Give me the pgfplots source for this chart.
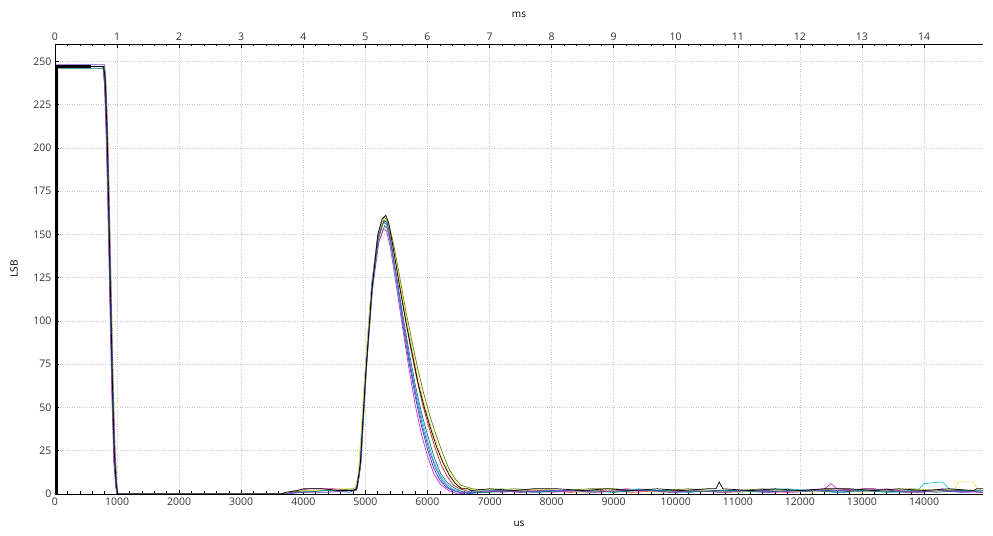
\documentclass[border=0pt]{standalone}
\usepackage{fontspec}
\setmainfont{Open Sans}
\usepackage{pgfplots}
\pgfplotsset{compat=1.18}

\definecolor{tBlue}{HTML}{2040D0}
\definecolor{tRed}{HTML}{D02020}
\definecolor{tOlive}{HTML}{6A7A10}
\definecolor{tMag}{HTML}{C030C0}
\definecolor{tCyan}{HTML}{20C8D8}
\definecolor{tYel}{HTML}{E6E040}
\definecolor{tTeal}{HTML}{107878}
\definecolor{tPurp}{HTML}{7050C8}
\definecolor{gridc}{HTML}{C8C8C8}

\pgfplotsset{
  lsbbase/.style={
    scale only axis, width=928pt, height=450pt,
    ymin=0, ymax=260,
    tick align=inside,
    major tick length=4pt, minor tick length=2.5pt,
    axis line style={-, black, line width=0.8pt},
    tick style={black, line width=0.6pt},
    every tick label/.append style={font=\fontsize{10.5}{12}\selectfont, text=black!80},
    /pgf/number format/assume math mode=true,
    label style={font=\fontsize{10.5}{12}\selectfont, text=black!80},
  }
}

\begin{document}
\begin{tikzpicture}
\begin{axis}[lsbbase, name=main,
  xmin=0, xmax=14950,
  axis x line*=bottom, axis y line*=left,
  xtick={0,1000,...,14000}, minor x tick num=4,
  ytick={0,25,...,250},
  scaled x ticks=false,
  xticklabel style={/pgf/number format/1000 sep=},
  grid=major, grid style={dotted, gridc, line width=0.6pt},
  xlabel={us}, ylabel={LSB},
  every axis x label/.style={at={(axis description cs:0.5,-0.0667)}, anchor=center},
  every axis y label/.style={at={(axis description cs:-0.0442,0.5)}, rotate=90, anchor=center},
  every axis plot/.append style={line width=0.7pt},
]
% blue
\addplot[tBlue] coordinates {(0,0)(24,0)(28,247)(775,247)(800,237)(832,204)(862,156)(892,104)(922,56)(952,20)(982,5)(1000,0)(3700,0)(3850,1)(4000,2)(4400,2)(4750,1)(4850,3)(4910,16)(5000,72)(5100,121)(5200,149)(5290,157)(5340,156)(5400,147)(5500,124)(5600,99)(5700,77)(5800,57)(5900,40)(6000,26)(6100,15)(6200,8)(6300,4)(6400,2)(6500,1)(6600,0)(6900,1)(7300,2)(7700,1)(8100,2)(8600,1)(9100,2)(9500,2)(10000,1)(10500,2)(11000,2)(11500,1)(11800,2)(12200,2)(12700,1)(13200,2)(13700,1)(14200,2)(14600,1)(14950,2)};
% red
\addplot[tRed] coordinates {(0,0)(23,0)(27,247)(790,247)(812,241)(842,213)(872,166)(902,114)(932,63)(962,26)(992,6)(1012,0)(3700,0)(3900,1)(4200,2)(4600,2)(4850,2)(4900,10)(5000,64)(5100,114)(5200,146)(5300,158)(5350,157)(5420,147)(5520,128)(5620,107)(5720,86)(5820,68)(5920,52)(6020,39)(6120,27)(6220,17)(6320,10)(6420,5)(6520,3)(6620,2)(6700,1)(7100,2)(7500,1)(7900,2)(8300,1)(8800,2)(9300,1)(9800,2)(10300,2)(10800,1)(11300,2)(11800,1)(12300,2)(12900,2)(13000,3)(13200,3)(13300,2)(13800,1)(14300,2)(14950,1)};
% olive
\addplot[tOlive] coordinates {(0,0)(24,0)(28,247)(780,247)(806,239)(836,208)(866,160)(896,108)(926,58)(956,21)(986,5)(1006,0)(3700,0)(3800,1)(4000,2)(4500,2)(4800,3)(4870,4)(4930,20)(5020,78)(5120,124)(5220,152)(5300,160)(5360,158)(5440,147)(5540,128)(5640,108)(5740,90)(5840,73)(5940,58)(6040,45)(6140,34)(6240,24)(6340,15)(6440,9)(6540,5)(6640,4)(6720,3)(7000,2)(7400,3)(7800,2)(8200,2)(8600,3)(9000,3)(9400,2)(9800,2)(10200,3)(10600,2)(11000,2)(11400,3)(11800,2)(12200,2)(12600,3)(13000,2)(13400,2)(13800,3)(14200,2)(14600,2)(14950,2)};
% magenta
\addplot[tMag] coordinates {(0,0)(25,0)(29,247)(770,247)(798,236)(828,202)(858,154)(888,102)(918,54)(948,18)(978,4)(998,0)(3700,0)(3900,2)(4100,3)(4500,3)(4700,2)(4850,2)(4910,14)(5000,70)(5100,117)(5200,144)(5290,153)(5340,152)(5400,143)(5500,120)(5600,96)(5700,73)(5800,52)(5900,35)(6000,22)(6100,12)(6200,6)(6300,3)(6400,1)(6500,0)(6800,2)(7200,1)(7600,2)(8000,1)(8400,2)(8800,1)(9200,3)(9600,2)(10000,1)(10400,2)(10800,1)(11200,2)(11600,1)(12000,2)(12400,3)(12500,6)(12600,3)(13000,2)(13400,3)(13600,2)(14000,1)(14300,3)(14400,2)(14950,1)};
% cyan
\addplot[tCyan] coordinates {(0,0)(38,0)(42,60)(46,247)(785,247)(808,240)(838,211)(868,163)(898,111)(928,61)(958,23)(988,5)(1008,0)(3700,0)(3900,1)(4300,2)(4700,2)(4840,3)(4900,13)(4990,66)(5090,115)(5190,147)(5280,158)(5330,157)(5400,146)(5500,123)(5600,101)(5700,80)(5800,61)(5900,45)(6000,31)(6100,19)(6200,11)(6300,6)(6400,3)(6500,2)(6600,1)(7000,2)(7200,3)(7400,2)(7800,1)(8200,2)(8600,2)(9000,1)(9400,3)(9800,2)(10200,1)(10600,2)(11000,1)(11400,2)(11800,3)(12200,2)(12600,1)(13000,2)(13500,1)(13900,2)(14000,6)(14300,7)(14400,3)(14700,2)(14950,2)};
% yellow
\addplot[tYel] coordinates {(0,0)(24,0)(28,247)(795,247)(818,242)(848,216)(878,170)(908,118)(938,67)(968,28)(998,7)(1015,0)(3650,0)(3750,1)(3850,2)(4200,2)(4600,3)(4820,3)(4880,8)(4970,58)(5080,112)(5190,146)(5290,159)(5340,158)(5420,148)(5520,129)(5620,109)(5720,90)(5820,72)(5920,56)(6020,43)(6120,32)(6220,22)(6320,14)(6420,8)(6520,4)(6620,3)(6800,2)(7100,3)(7500,2)(7800,3)(8200,2)(8600,1)(9000,2)(9400,2)(9800,1)(10200,2)(10600,2)(11000,1)(11400,2)(11800,2)(12200,1)(12600,2)(13000,1)(13400,2)(13800,3)(14200,2)(14500,3)(14550,7)(14800,7)(14850,3)(14950,2)};
% teal
\addplot[tTeal] coordinates {(0,0)(24,0)(28,246)(780,246)(804,238)(834,207)(864,158)(894,106)(924,57)(954,21)(984,5)(1004,0)(3700,0)(4000,1)(4400,2)(4800,2)(4860,3)(4920,15)(5010,72)(5110,121)(5210,149)(5300,158)(5350,157)(5410,146)(5510,124)(5610,102)(5710,81)(5810,62)(5910,46)(6010,33)(6110,21)(6210,12)(6310,7)(6410,4)(6510,2)(6610,1)(7000,1)(7400,2)(7800,1)(8200,2)(8600,2)(9000,1)(9400,2)(9800,2)(10200,1)(10600,2)(11000,2)(11400,1)(11800,2)(12200,2)(12600,1)(13000,2)(13400,1)(13800,2)(14200,1)(14600,2)(14950,1)};
% purple
\addplot[tPurp] coordinates {(0,0)(24,0)(28,248)(740,248)(800,248)(815,241)(845,214)(875,168)(905,116)(935,65)(965,27)(995,6)(1012,0)(3700,0)(3950,1)(4400,1)(4800,2)(4870,3)(4930,18)(5020,74)(5120,120)(5220,146)(5310,155)(5360,153)(5430,141)(5530,118)(5630,95)(5730,73)(5830,54)(5930,38)(6030,25)(6130,15)(6230,8)(6330,4)(6430,2)(6530,1)(6700,1)(7100,2)(7500,1)(7900,2)(8300,2)(8700,1)(9100,2)(9500,2)(9900,1)(10300,2)(10700,1)(11100,2)(11500,2)(11900,1)(12300,2)(12700,2)(13100,3)(13500,2)(13900,1)(14300,2)(14700,1)(14950,2)};
% black
\addplot[black] coordinates {(0,0)(22,0)(26,247)(785,247)(808,240)(838,210)(868,162)(898,110)(928,60)(958,22)(988,5)(1010,0)(3650,0)(3720,1)(3900,2)(4000,3)(4300,3)(4600,2)(4800,2)(4860,3)(4920,18)(5000,66)(5100,116)(5200,150)(5270,159)(5330,161)(5380,156)(5450,142)(5550,120)(5650,100)(5750,82)(5850,64)(5950,50)(6050,38)(6150,27)(6250,18)(6350,11)(6450,6)(6550,3)(6650,3)(6700,2)(7000,3)(7400,2)(7700,3)(8100,3)(8500,2)(8900,3)(9300,2)(9700,3)(10100,2)(10500,3)(10650,3)(10700,7)(10760,3)(11200,2)(11600,3)(12000,2)(12400,3)(12800,3)(13200,2)(13600,3)(14000,2)(14400,3)(14800,2)(14850,3)(14950,3)};
% thick black overlap of the first pulse
\addplot[black, line width=2.2pt] coordinates {(30,0)(30,247)(580,247)};
\end{axis}
\begin{axis}[lsbbase,
  at={(main.south west)}, anchor=south west,
  xmin=0, xmax=14.95,
  axis x line*=top, axis y line=none,
  xtick={0,1,...,14}, minor x tick num=4,
  xlabel={ms},
  every axis x label/.style={at={(axis description cs:0.5,1.0644)}, anchor=center},
]
\end{axis}
\pgfresetboundingbox
\path[use as bounding box] ([xshift=-55pt,yshift=-42pt]main.south west) rectangle ([xshift=10pt,yshift=44pt]main.north east);
\end{tikzpicture}
\end{document}
